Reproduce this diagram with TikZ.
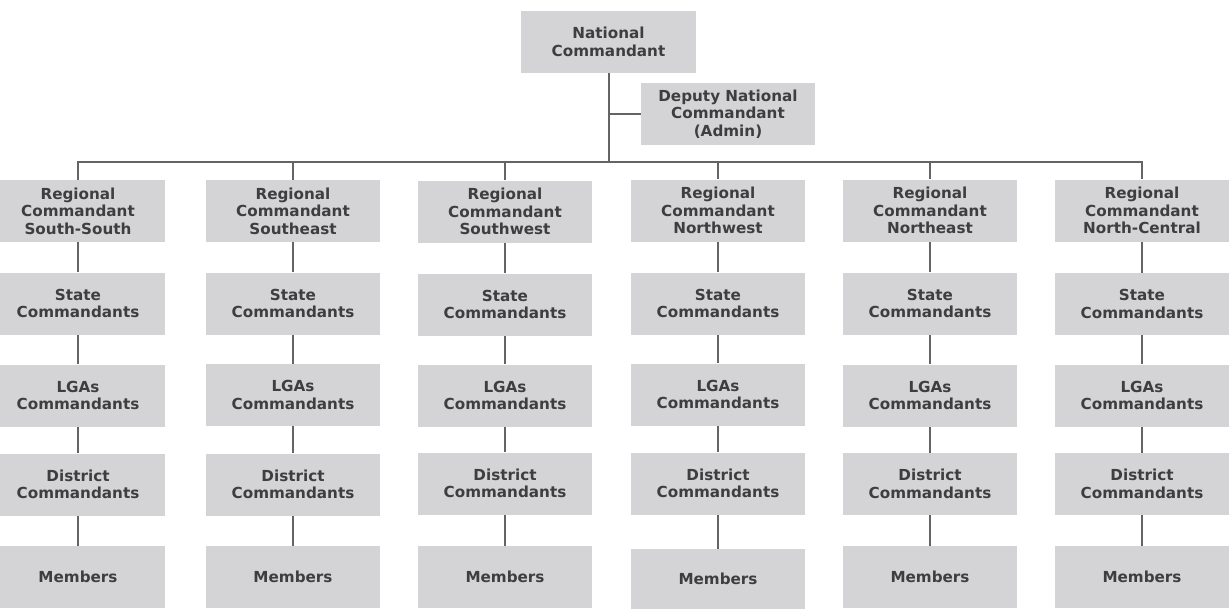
\documentclass[tikz,border=0pt]{standalone}
\usepackage{fontspec}
\setmainfont{DejaVu Sans}
\usetikzlibrary{positioning}
\pgfdeclarelayer{edgelayer}
\pgfdeclarelayer{nodelayer}
\pgfsetlayers{edgelayer,nodelayer,main}
\definecolor{boxgray}{RGB}{212,212,214}
\definecolor{linegray}{RGB}{100,100,100}
\definecolor{txtgray}{RGB}{62,62,62}
\tikzstyle{rank}=[rectangle,fill=boxgray,draw=none,minimum width=174pt,minimum height=62pt,inner sep=0pt,align=center,text=txtgray,font=\fontsize{15.2}{17.5}\selectfont\bfseries]
\tikzstyle{link}=[-,draw=linegray,line width=2pt]
\tikzstyle{none}=[inner sep=0pt]
\begin{document}
\begin{tikzpicture}[x=1pt,y=-1pt]
	\useasboundingbox (0,0) rectangle (1229,608);
	\clip (0,0) rectangle (1229,608);
	\begin{pgfonlayer}{nodelayer}
		\node [style=rank, minimum width=175pt] (NC) at (608.5,42) {National\\Commandant};
		\node [style=rank] (DNC) at (728,114) {Deputy National\\Commandant\\(Admin)};
		\node [style=none] (busL) at (78,162) {};
		\node [style=none] (busR) at (1142,162) {};
		% regional commandants
		\node [style=rank] (RSS) at (78,211) {Regional\\Commandant\\South-South};
		\node [style=rank] (RSE) at (293,211) {Regional\\Commandant\\Southeast};
		\node [style=rank] (RSW) at (505,211.5) {Regional\\Commandant\\Southwest};
		\node [style=rank] (RNW) at (718,210.5) {Regional\\Commandant\\Northwest};
		\node [style=rank] (RNE) at (930,210.5) {Regional\\Commandant\\Northeast};
		\node [style=rank] (RNC) at (1142,210.5) {Regional\\Commandant\\North-Central};
		% state
		\node [style=rank] (S1) at (78,303.5) {State\\Commandants};
		\node [style=rank] (S2) at (293,303.5) {State\\Commandants};
		\node [style=rank] (S3) at (505,304.5) {State\\Commandants};
		\node [style=rank] (S4) at (718,303.5) {State\\Commandants};
		\node [style=rank] (S5) at (930,303.5) {State\\Commandants};
		\node [style=rank] (S6) at (1142,304) {State\\Commandants};
		% local government areas
		\node [style=rank] (L1) at (78,395.5) {LGAs\\Commandants};
		\node [style=rank] (L2) at (293,395) {LGAs\\Commandants};
		\node [style=rank] (L3) at (505,395.5) {LGAs\\Commandants};
		\node [style=rank] (L4) at (718,394.5) {LGAs\\Commandants};
		\node [style=rank] (L5) at (930,395.5) {LGAs\\Commandants};
		\node [style=rank] (L6) at (1142,395.5) {LGAs\\Commandants};
		% district
		\node [style=rank] (D1) at (78,484.5) {District\\Commandants};
		\node [style=rank] (D2) at (293,484.5) {District\\Commandants};
		\node [style=rank] (D3) at (505,483.5) {District\\Commandants};
		\node [style=rank] (D4) at (718,483.5) {District\\Commandants};
		\node [style=rank] (D5) at (930,484) {District\\Commandants};
		\node [style=rank] (D6) at (1142,484) {District\\Commandants};
		% members
		\node [style=rank] (M1) at (78,577) {Members};
		\node [style=rank] (M2) at (293,577) {Members};
		\node [style=rank] (M3) at (505,577) {Members};
		\node [style=rank, minimum height=60pt] (M4) at (718,579) {Members};
		\node [style=rank] (M5) at (930,577) {Members};
		\node [style=rank] (M6) at (1142,577) {Members};
	\end{pgfonlayer}
	\begin{pgfonlayer}{edgelayer}
		\draw [style=link] (NC.south) to (NC.south |- busL);
		\draw [style=link] (NC.south |- DNC.west) to (DNC.west);
		\draw [style=link, line cap=rect] (busL.center) to (busR.center);
		\draw [style=link] (RSS.north |- busL) to (RSS.north);
		\draw [style=link] (RSE.north |- busL) to (RSE.north);
		\draw [style=link] (RSW.north |- busL) to (RSW.north);
		\draw [style=link] (RNW.north |- busL) to (RNW.north);
		\draw [style=link] (RNE.north |- busL) to (RNE.north);
		\draw [style=link] (RNC.north |- busL) to (RNC.north);
		\draw [style=link] (RSS) to (S1);
		\draw [style=link] (RSE) to (S2);
		\draw [style=link] (RSW) to (S3);
		\draw [style=link] (RNW) to (S4);
		\draw [style=link] (RNE) to (S5);
		\draw [style=link] (RNC) to (S6);
		\draw [style=link] (S1) to (L1);
		\draw [style=link] (S2) to (L2);
		\draw [style=link] (S3) to (L3);
		\draw [style=link] (S4) to (L4);
		\draw [style=link] (S5) to (L5);
		\draw [style=link] (S6) to (L6);
		\draw [style=link] (L1) to (D1);
		\draw [style=link] (L2) to (D2);
		\draw [style=link] (L3) to (D3);
		\draw [style=link] (L4) to (D4);
		\draw [style=link] (L5) to (D5);
		\draw [style=link] (L6) to (D6);
		\draw [style=link] (D1) to (M1);
		\draw [style=link] (D2) to (M2);
		\draw [style=link] (D3) to (M3);
		\draw [style=link] (D4) to (M4);
		\draw [style=link] (D5) to (M5);
		\draw [style=link] (D6) to (M6);
	\end{pgfonlayer}
\end{tikzpicture}
\end{document}
